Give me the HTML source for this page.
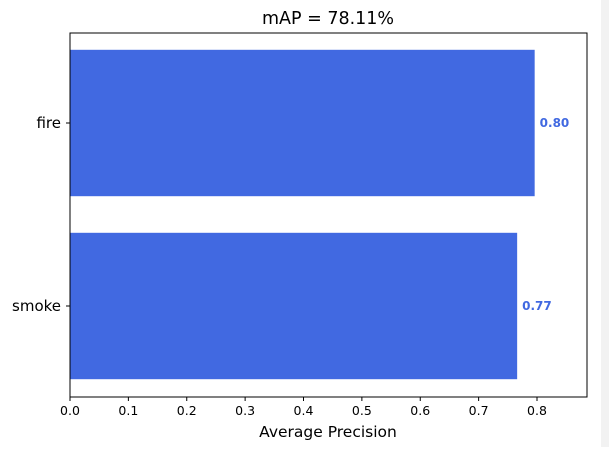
<!DOCTYPE html>
<html><head><meta charset="utf-8"><style>
body{margin:0;width:609px;height:447px;background:#fff;overflow:hidden;font-family:"DejaVu Sans","Liberation Sans",sans-serif}
</style></head><body>
<svg width="609" height="447" xmlns="http://www.w3.org/2000/svg">
<rect x="601" y="0" width="8" height="447" fill="#f2f2f2"/>
<text x="328" y="24" text-anchor="middle" font-size="17.5" fill="#000">mAP = 78.11%</text>
<g id="plot"></g>
<rect x="70" y="33" width="517" height="364" fill="none" stroke="#000" stroke-width="1"/>
<text x="328" y="437" text-anchor="middle" font-size="15.5">Average Precision</text>
</svg>
<script>
const categories = ["fire", "smoke"];
const values = [0.796, 0.766];
const labels = ["0.80", "0.77"];
const ticks = [0, 0.1, 0.2, 0.3, 0.4, 0.5, 0.6, 0.7, 0.8];
const tickLabels = ["0.0","0.1","0.2","0.3","0.4","0.5","0.6","0.7","0.8"];

const NS = "http://www.w3.org/2000/svg";
const g = document.getElementById("plot");
const x = v => 70 + v * 583.75;
const band = 183, y0 = 123;
const yc = i => y0 + i * band;
function mk(tag, attrs){const e=document.createElementNS(NS,tag);for(const k in attrs)e.setAttribute(k,attrs[k]);g.appendChild(e);return e;}
categories.forEach((c,i)=>{
  const h = band*0.8;
  const r = mk("rect",{x:x(0),y:yc(i)-h/2,width:x(values[i])-x(0),height:h,fill:"#4169e1"});
  
  
  const t = mk("text",{x:x(values[i])+5,y:yc(i)+4,"font-size":"12","font-weight":"bold",fill:"#4169e1"});
  t.textContent = labels[i];
  
  
  const tk = mk("line",{x1:66,x2:70,y1:yc(i),y2:yc(i),stroke:"#000"});
  
  
  const yl = mk("text",{x:61,y:yc(i)+5,"text-anchor":"end","font-size":"15"});
  yl.textContent = c;
  
  
});
ticks.forEach((v,i)=>{
  const l = mk("line",{x1:x(v),x2:x(v),y1:397,y2:401,stroke:"#000"});
  
  
  const t = mk("text",{x:x(v),y:415,"text-anchor":"middle","font-size":"12.5"});
  t.textContent = tickLabels[i];
  
  
});
</script>
</body></html>
